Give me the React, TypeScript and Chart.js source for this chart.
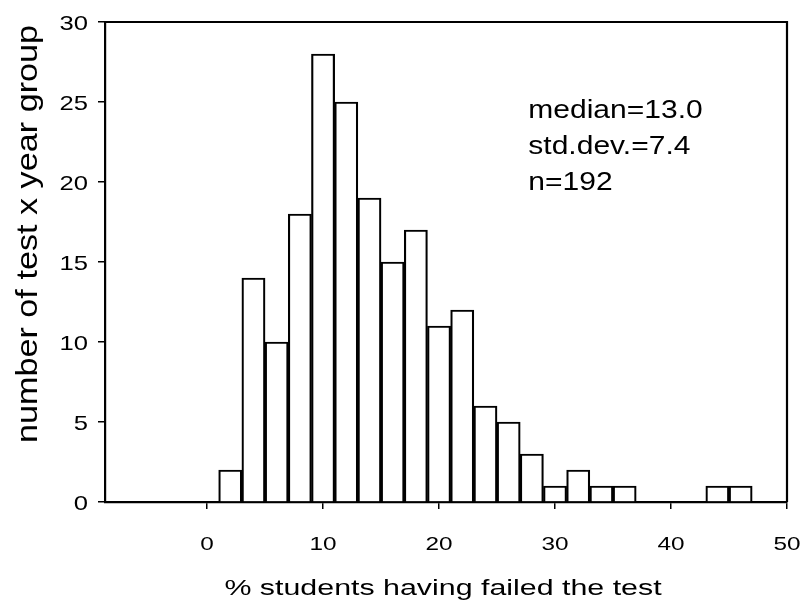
import { useEffect, useRef } from 'react';
import { Chart, registerables } from 'chart.js';

Chart.register(...registerables);

// ---- data ----
const binCenters = [2, 4, 6, 8, 10, 12, 14, 16, 18, 20, 22, 24, 26, 28, 30, 32, 34, 36, 38, 40, 42, 44, 46];
const counts = [2, 14, 10, 18, 28, 25, 19, 15, 17, 11, 12, 6, 5, 3, 1, 2, 1, 1, 0, 0, 0, 1, 1];
const xTickValues = [0, 10, 20, 30, 40, 50];
const yTickValues = [0, 5, 10, 15, 20, 25, 30];
const statLines = ['median=13.0', 'std.dev.=7.4', 'n=192'];
const xTitle = '% students having failed the test';
const yTitle = 'number of test x year group';

const FONT = '"Liberation Sans", Arial, Helvetica, sans-serif';

function drawText(
  ctx: CanvasRenderingContext2D,
  s: string,
  x: number,
  y: number,
  size: number,
  sx: number,
  align: CanvasTextAlign,
  rot = 0
) {
  ctx.save();
  ctx.translate(x, y);
  if (rot) ctx.rotate(rot);
  ctx.scale(sx, 1);
  ctx.font = `${size}px ${FONT}`;
  ctx.fillStyle = '#000';
  ctx.textAlign = align;
  ctx.textBaseline = 'alphabetic';
  ctx.fillText(s, 0, 0);
  ctx.restore();
}

const textPlugin = {
  id: 'customTexts',
  afterDraw(chart: any) {
    const ctx = chart.ctx as CanvasRenderingContext2D;
    const xs = chart.scales.x;
    const ys = chart.scales.y;
    const area = chart.chartArea;

    // frame (top and right)
    ctx.save();
    ctx.strokeStyle = '#000';
    ctx.lineWidth = 2.2;
    ctx.beginPath();
    ctx.moveTo(area.left, area.top);
    ctx.lineTo(area.right, area.top);
    ctx.lineTo(area.right, area.bottom);
    ctx.stroke();
    ctx.restore();

    // y tick labels
    yTickValues.forEach((v) => {
      const py = ys.getPixelForValue(v);
      drawText(ctx, String(v), area.left - 17, py + 8, 21, 1.22, 'right');
    });
    // x tick labels
    xTickValues.forEach((v) => {
      const px = xs.getPixelForValue(v);
      drawText(ctx, String(v), px, area.bottom + 48, 19, 1.28, 'center');
    });
    // axis titles
    drawText(ctx, xTitle, (area.left + area.right) / 2 - 3, area.bottom + 93, 22, 1.38, 'center');
    drawText(ctx, yTitle, 36.5, 234, 30, 1.14, 'center', -Math.PI / 2);

    // stats annotation
    const ax = xs.getPixelForValue(27.7);
    const ay = ys.getPixelForValue(24.0);
    statLines.forEach((line, i) => {
      drawText(ctx, line, ax, ay + i * 36, 25, 1.2, 'left');
    });
  },
};

export default function App() {
  const canvasRef = useRef<HTMLCanvasElement | null>(null);

  useEffect(() => {
    const canvas = canvasRef.current;
    if (!canvas) return;
    const points = binCenters
      .map((x, i) => ({ x, y: counts[i] }))
      .filter((p) => p.y > 0);

    const chart = new Chart(canvas, {
      type: 'bar',
      data: {
        datasets: [
          {
            data: points as any,
            backgroundColor: '#ffffff',
            borderColor: '#000000',
            borderWidth: 2.2,
            borderSkipped: 'start',
            barPercentage: 1,
            categoryPercentage: 1,
          },
        ],
      },
      options: {
        responsive: false,
        animation: false,
        layout: { padding: { left: 0, right: 17, top: 22, bottom: 0 } },
        plugins: {
          legend: { display: false },
          tooltip: { enabled: false },
        },
        scales: {
          x: {
            type: 'linear',
            min: -8.8,
            max: 50,
            offset: false,
            grid: {
              display: true,
              offset: false,
              drawOnChartArea: false,
              drawTicks: true,
              tickLength: 7,
              color: '#000',
              lineWidth: 1.5,
            },
            border: { display: true, color: '#000', width: 2.2 },
            ticks: { display: false },
            afterBuildTicks: (s: any) => {
              s.ticks = xTickValues.map((v) => ({ value: v }));
            },
            afterFit: (s: any) => {
              s.height = 108;
            },
          },
          y: {
            type: 'linear',
            min: 0,
            max: 30,
            grid: {
              display: true,
              drawOnChartArea: false,
              drawTicks: true,
              tickLength: 7,
              color: '#000',
              lineWidth: 1.5,
            },
            border: { display: true, color: '#000', width: 2.2 },
            ticks: { display: false },
            afterBuildTicks: (s: any) => {
              s.ticks = yTickValues.map((v) => ({ value: v }));
            },
            afterFit: (s: any) => {
              s.width = 105;
            },
          },
        },
      },
      plugins: [textPlugin],
    });
    return () => chart.destroy();
  }, []);

  return (
    <div style={{ position: 'absolute', left: 0, top: 0, width: 804, height: 610, background: '#fff' }}>
      <canvas ref={canvasRef} width={804} height={610} style={{ display: 'block' }} />
    </div>
  );
}
